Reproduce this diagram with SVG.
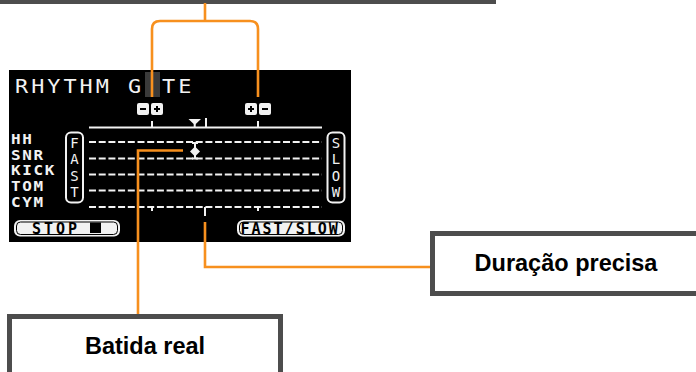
<svg xmlns="http://www.w3.org/2000/svg" width="696" height="372" viewBox="0 0 696 372">
<style>
.box{fill:#fff;stroke:#4d4d4d;stroke-width:5}
.lbl{font-family:"Liberation Sans",Arial,sans-serif;font-weight:bold;font-size:23.5px;fill:#000;text-anchor:middle}
.lcd{font-family:"DejaVu Sans Mono",monospace;fill:#f2f2f2}
.w{stroke:#f2f2f2;stroke-width:2;fill:none}
.dash{stroke:#f2f2f2;stroke-width:2;stroke-dasharray:7 2.7;fill:none}
.btn{fill:#f2f2f2}
.btnin{fill:none;stroke:#000;stroke-width:1}
.btntxt{font-family:"DejaVu Sans Mono",monospace;font-weight:bold;font-size:15px;fill:#000}
.conn{fill:none;stroke:#f7901e;stroke-width:2.6}
</style>
<rect width="696" height="372" fill="#fff"/>
<g id="top-callout"><rect class="box" x="-10" y="-60" width="503.5" height="61.5"/></g>
<g id="screen">
<rect x="9" y="70" width="342" height="172" fill="#000"/>
<text class="lcd" transform="translate(15,93) scale(1.15,1)" font-size="19" letter-spacing="2.6">RHYTHM G</text>
<rect x="145" y="72" width="15" height="25" fill="#3a3a3a"/>
<text class="lcd" transform="translate(162,93) scale(1.15,1)" font-size="19" letter-spacing="2.6">TE</text>
<g id="minus-plus-left">
<rect class="btn" x="137" y="103" width="12" height="12" rx="2"/>
<line x1="140" y1="109" x2="146" y2="109" stroke="#000" stroke-width="2"/>
<rect class="btn" x="151" y="103" width="12" height="12" rx="2"/>
<line x1="154" y1="109" x2="160" y2="109" stroke="#000" stroke-width="2"/>
<line x1="157" y1="106" x2="157" y2="112" stroke="#000" stroke-width="2"/>
</g>
<g id="plus-minus-right">
<rect class="btn" x="245" y="103" width="12" height="12" rx="2"/>
<line x1="248" y1="109" x2="254" y2="109" stroke="#000" stroke-width="2"/>
<line x1="251" y1="106" x2="251" y2="112" stroke="#000" stroke-width="2"/>
<rect class="btn" x="259" y="103" width="12" height="12" rx="2"/>
<line x1="262" y1="109" x2="268" y2="109" stroke="#000" stroke-width="2"/>
</g>
<line class="w" x1="89" y1="127.5" x2="322" y2="127.5"/>
<line class="w" x1="152" y1="121" x2="152" y2="127.5"/>
<line class="w" x1="206" y1="118" x2="206" y2="127.5"/>
<line class="w" x1="258" y1="121" x2="258" y2="127.5"/>
<polygon points="188.5,119 201,119 194.7,125" fill="#f2f2f2"/>
<line class="w" x1="194.7" y1="124" x2="194.7" y2="127.5"/>
<line class="dash" x1="89" y1="142" x2="322" y2="142"/>
<line class="dash" x1="89" y1="158.5" x2="322" y2="158.5"/>
<line class="dash" x1="89" y1="174.5" x2="322" y2="174.5"/>
<line class="dash" x1="89" y1="190.5" x2="322" y2="190.5"/>
<line class="dash" x1="89" y1="207" x2="322" y2="207"/>
<line class="w" x1="152" y1="207" x2="152" y2="211"/>
<line class="w" x1="205" y1="207" x2="205" y2="216"/>
<line class="w" x1="258" y1="207" x2="258" y2="211"/>
<line class="w" x1="195" y1="142" x2="195" y2="159"/>
<line class="w" x1="192" y1="143" x2="198" y2="143"/>
<line class="w" x1="192" y1="158.5" x2="198" y2="158.5"/>
<polygon points="195,146.5 200,151.5 195,156.5 190,151.5" fill="#f2f2f2"/>
<g font-size="14.5" font-weight="bold">
<text class="lcd" transform="translate(11,144) scale(1.1,1)" letter-spacing="1.5">HH</text>
<text class="lcd" transform="translate(11,159.5) scale(1.1,1)" letter-spacing="1.5">SNR</text>
<text class="lcd" transform="translate(11,175) scale(1.1,1)" letter-spacing="1.5">KICK</text>
<text class="lcd" transform="translate(11,190.7) scale(1.1,1)" letter-spacing="1.5">TOM</text>
<text class="lcd" transform="translate(11,207) scale(1.1,1)" letter-spacing="1.5">CYM</text>
</g>
<rect x="66" y="132.5" width="17" height="70" rx="5" fill="#000" stroke="#f2f2f2" stroke-width="2"/>
<g font-size="14" text-anchor="middle">
<text class="lcd" x="74.5" y="147.5">F</text>
<text class="lcd" x="74.5" y="164">A</text>
<text class="lcd" x="74.5" y="180.5">S</text>
<text class="lcd" x="74.5" y="197">T</text>
</g>
<rect x="327.5" y="132.5" width="17" height="70" rx="5" fill="#000" stroke="#f2f2f2" stroke-width="2"/>
<g font-size="14" text-anchor="middle">
<text class="lcd" x="336" y="147.5">S</text>
<text class="lcd" x="336" y="164">L</text>
<text class="lcd" x="336" y="180.5">O</text>
<text class="lcd" x="336" y="197">W</text>
</g>
<rect class="btn" x="14" y="220" width="106" height="16.5" rx="6"/>
<rect class="btnin" x="16.5" y="222" width="101" height="12.5" rx="4"/>
<text class="btntxt" x="32" y="233.5" letter-spacing="3">STOP</text>
<rect x="90" y="222.5" width="11" height="10.5" fill="#000"/>
<rect class="btn" x="237" y="220" width="108" height="16.5" rx="6"/>
<rect class="btnin" x="239.5" y="222" width="103" height="12.5" rx="4"/>
<text class="btntxt" x="240.5" y="233.5" letter-spacing="2">FAST/SLOW</text>
</g>
<g id="connectors">
<path class="conn" d="M205,3 V21 M152,97 V29 Q152,21 160,21 H250 Q258,21 258,29 V97"/>
<path class="conn" d="M183,150.5 H138 V314"/>
<path class="conn" d="M205,222 V267 H430"/>
</g>
<g id="node-duracao"><rect class="box" x="432.5" y="233.5" width="300" height="60"/><text class="lbl" x="566" y="271">Duração precisa</text></g>
<g id="node-batida"><rect class="box" x="9.5" y="316.5" width="271" height="100"/><text class="lbl" x="145" y="354">Batida real</text></g>
</svg>
